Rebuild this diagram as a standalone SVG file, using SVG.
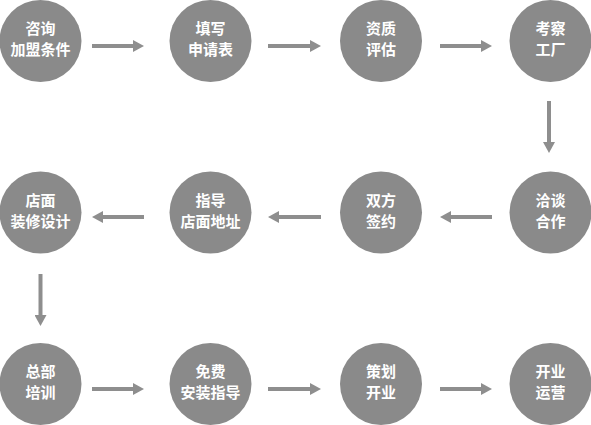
<svg xmlns="http://www.w3.org/2000/svg" width="591" height="425" viewBox="0 0 591 425">
<style>
.c{fill:#8a8a8a}
.t{font-family:"Noto Sans CJK SC","Noto Sans",sans-serif;font-size:15px;font-weight:bold;fill:#ffffff;text-anchor:middle}
.a{stroke:#8e8e8e;stroke-width:4;fill:none}
</style>
<defs>
<marker id="ah" markerWidth="11" markerHeight="12" refX="0" refY="6" orient="auto" markerUnits="userSpaceOnUse"><path d="M0,0 L11,6 L0,12 z" fill="#8e8e8e"/></marker>
</defs>
<rect width="591" height="425" fill="#ffffff"/>
<g id="connectors">
<line class="a" x1="92" y1="46" x2="133" y2="46" marker-end="url(#ah)"/>
<line class="a" x1="268" y1="46" x2="310" y2="46" marker-end="url(#ah)"/>
<line class="a" x1="440" y1="46" x2="481" y2="46" marker-end="url(#ah)"/>
<line class="a" x1="549" y1="101" x2="549" y2="142" marker-end="url(#ah)"/>
<line class="a" x1="492" y1="217" x2="451" y2="217" marker-end="url(#ah)"/>
<line class="a" x1="321" y1="217" x2="279" y2="217" marker-end="url(#ah)"/>
<line class="a" x1="144" y1="217" x2="103" y2="217" marker-end="url(#ah)"/>
<line class="a" x1="40.5" y1="274" x2="40.5" y2="315" marker-end="url(#ah)"/>
<line class="a" x1="92" y1="389" x2="133" y2="389" marker-end="url(#ah)"/>
<line class="a" x1="268" y1="389" x2="310" y2="389" marker-end="url(#ah)"/>
<line class="a" x1="440" y1="389" x2="481" y2="389" marker-end="url(#ah)"/>
</g>
<g id="n1"><circle class="c" cx="40.5" cy="41" r="41"/><text class="t" x="40.5" y="34">咨询</text><text class="t" x="40.5" y="55">加盟条件</text></g>
<g id="n2"><circle class="c" cx="210.5" cy="41" r="41"/><text class="t" x="210.5" y="34">填写</text><text class="t" x="210.5" y="55">申请表</text></g>
<g id="n3"><circle class="c" cx="381" cy="41" r="41"/><text class="t" x="381" y="34">资质</text><text class="t" x="381" y="55">评估</text></g>
<g id="n4"><circle class="c" cx="550.5" cy="41" r="41"/><text class="t" x="550.5" y="34">考察</text><text class="t" x="550.5" y="55">工厂</text></g>
<g id="n5"><circle class="c" cx="550.5" cy="212.5" r="41"/><text class="t" x="550.5" y="205.5">洽谈</text><text class="t" x="550.5" y="226.5">合作</text></g>
<g id="n6"><circle class="c" cx="381" cy="212.5" r="41"/><text class="t" x="381" y="205.5">双方</text><text class="t" x="381" y="226.5">签约</text></g>
<g id="n7"><circle class="c" cx="210.5" cy="212.5" r="41"/><text class="t" x="210.5" y="205.5">指导</text><text class="t" x="210.5" y="226.5">店面地址</text></g>
<g id="n8"><circle class="c" cx="40.5" cy="212.5" r="41"/><text class="t" x="40.5" y="205.5">店面</text><text class="t" x="40.5" y="226.5">装修设计</text></g>
<g id="n9"><circle class="c" cx="40.5" cy="384" r="41"/><text class="t" x="40.5" y="377">总部</text><text class="t" x="40.5" y="398">培训</text></g>
<g id="n10"><circle class="c" cx="210.5" cy="384" r="41"/><text class="t" x="210.5" y="377">免费</text><text class="t" x="210.5" y="398">安装指导</text></g>
<g id="n11"><circle class="c" cx="381" cy="384" r="41"/><text class="t" x="381" y="377">策划</text><text class="t" x="381" y="398">开业</text></g>
<g id="n12"><circle class="c" cx="550.5" cy="384" r="41"/><text class="t" x="550.5" y="377">开业</text><text class="t" x="550.5" y="398">运营</text></g>
</svg>
